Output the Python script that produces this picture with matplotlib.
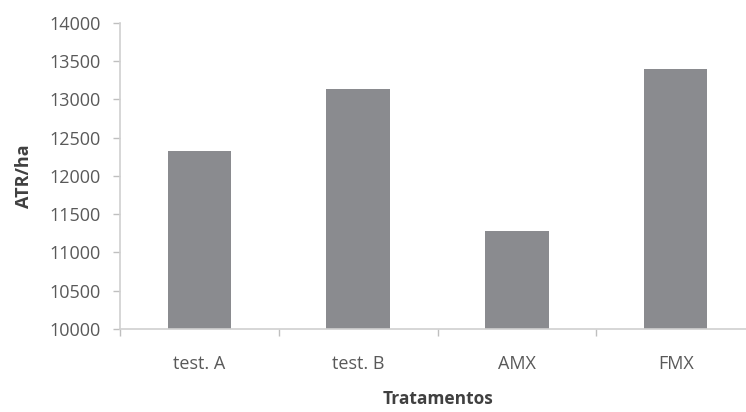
import matplotlib
matplotlib.use("Agg")
import matplotlib.pyplot as plt
import numpy as np

categories = ["test. A", "test. B", "AMX", "FMX"]
atr_ha = [12330, 13130, 11280, 13390]
y_ticks = [10000, 10500, 11000, 11500, 12000, 12500, 13000, 13500, 14000]

plt.rcParams["font.family"] = ["Open Sans", "DejaVu Sans"]

W, H = 746, 412
fig = plt.figure(figsize=(W / 100, H / 100), dpi=100)
left_px, right_px, bottom_px, top_px = 120, 755, 329, 22.7
ax = fig.add_axes([left_px / W, 1 - bottom_px / H,
                   (right_px - left_px) / W, (bottom_px - top_px) / H])

x = np.arange(len(categories))
ax.bar(x, atr_ha, width=0.4, color="#8a8b8f", edgecolor="none")

ax.set_ylim(10000, 14000)
ax.set_xlim(-0.5, len(categories) - 0.5)
ax.set_yticks(y_ticks)
ax.set_yticklabels([str(v) for v in y_ticks])

# category labels in the middle, tick marks on the boundaries
ax.set_xticks(x)
ax.set_xticklabels(categories)
ax.set_xticks(np.arange(len(categories) + 1) - 0.5, minor=True)
ax.tick_params(axis="x", which="major", length=0, pad=19, labelsize=13, labelcolor="#595959")
ax.tick_params(axis="x", which="minor", length=5, width=1, color="#bfbfbf", direction="out")
ax.tick_params(axis="y", length=5, width=1, color="#bfbfbf", pad=9, labelsize=13, labelcolor="#595959")

for side in ("top", "right"):
    ax.spines[side].set_visible(False)
for side in ("left", "bottom"):
    ax.spines[side].set_color("#d0d0d0")
    ax.spines[side].set_linewidth(1.2)

ax.set_ylabel("ATR/ha", fontsize=13, fontweight="bold", color="#404040", labelpad=12)
ax.set_xlabel("Tratamentos", fontsize=12.5, fontweight="bold", color="#404040", labelpad=12)

fig.savefig("out.png", dpi=100)
